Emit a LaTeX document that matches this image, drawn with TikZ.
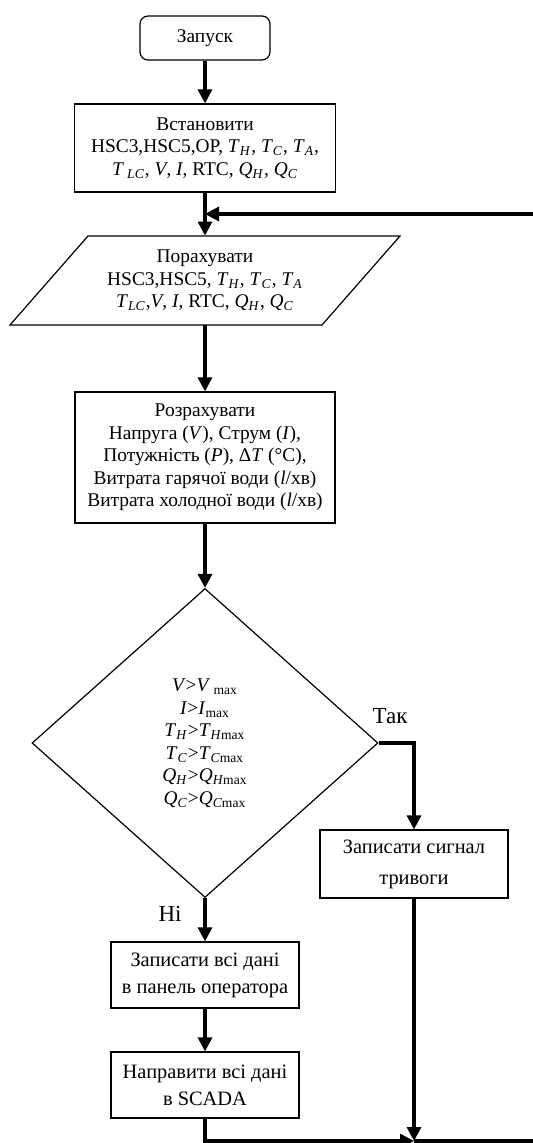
\documentclass[tikz,border=0pt]{standalone}
\usepackage{fontspec}
\setmainfont{Liberation Serif}
\usetikzlibrary{arrows.meta,shapes.geometric}
\newcommand{\vi}[1]{\textit{#1}}
\newcommand{\sbi}[2]{\textit{#1}\textsubscript{\textit{#2}}}
\begin{document}
\begin{tikzpicture}[x=0.5pt,y=-0.5pt,
  txt/.style={align=center, font=\fontsize{9.7}{11.25}\selectfont},
  box/.style={txt, draw, line width=0.6pt, inner sep=2pt},
  small/.style={font=\fontsize{10.2}{11.5}\selectfont},
  flow/.style={line width=1.6pt, -{Triangle[width=7pt,length=7pt]}},
  plain/.style={line width=1.6pt},
  lbl/.style={font=\fontsize{11.5}{13}\selectfont}]
\useasboundingbox (0,0) rectangle (533,1143);
\clip (0,0) rectangle (533,1143);
\node[box, rounded corners=4pt, minimum width=65pt, minimum height=22pt] (start) at (205,38) {Запуск};
\node[box, minimum width=130.5pt, minimum height=44pt] (set) at (205,148)
  {Встановити\\ HSC3,HSC5,OP, \sbi{T}{H}\textit{,} \sbi{T}{C}, \sbi{T}{A},\\ \textit{T}\,\textsubscript{\textit{LC}}, \vi{V}, \vi{I}, RTC, \sbi{Q}{H}, \sbi{Q}{C}};
\draw[line width=0.6pt] (88,236) -- (400,236) -- (322,325) -- (10,325) -- cycle;
\node[txt, minimum height=44.5pt, inner sep=0pt] (read) at (205,280.5)
  {Порахувати\\ HSC3,HSC5, \sbi{T}{H}, \sbi{T}{C}, \sbi{T}{A}\\ \sbi{T}{LC},\vi{V}, \vi{I}, RTC, \sbi{Q}{H}, \sbi{Q}{C}};
\node[box, minimum width=130pt, minimum height=65.5pt] (calc) at (205,457.5)
  {Розрахувати\\ Напруга (\vi{V}), Струм (\vi{I}),\\ Потужність (\vi{P}), Δ\vi{T} (°C),\\ Витрата гарячої води (\vi{l}/хв)\\ Витрата холодної води (\vi{l}/хв)};
\node[txt, diamond, draw, line width=0.6pt, minimum width=173pt, minimum height=154.5pt, inner sep=0pt] (dec) at (205,743)
  {\vi{V}>\vi{V}\,\textsubscript{max}\\ \vi{I}>\vi{I}\textsubscript{max}\\ \sbi{T}{H}>\vi{T}\textsubscript{\vi{H}max}\\ \sbi{T}{C}>\vi{T}\textsubscript{\vi{C}max}\\ \sbi{Q}{H}>\vi{Q}\textsubscript{\vi{H}max}\\ \sbi{Q}{C}>\vi{Q}\textsubscript{\vi{C}max}};
\node[box, small, minimum width=94pt, minimum height=34pt] (alarm) at (414,864) {Записати сигнал\\[4pt] тривоги};
\node[box, small, minimum width=94pt, minimum height=33pt] (write) at (205,975) {Записати всі дані\\[2pt] в панель оператора};
\node[box, small, minimum width=94pt, minimum height=33pt] (scada) at (205,1085) {Направити всі дані\\[2pt] в SCADA};
\node[lbl] (yes) at (390,716) {Так};
\node[lbl] (no) at (170,914) {Ні};
\coordinate (loopR) at (545,214);
\coordinate (botR) at (545,1141);
\coordinate (join) at (414,1141);
\draw[flow] (start) -- (set);
\draw[flow] (set) -- (read);
\draw[flow] (loopR) -- (loopR -| read.north);
\draw[flow] (read) -- (calc);
\draw[flow] (calc) -- (dec.north);
\draw[flow] (dec.east) -| (alarm.north);
\draw[flow] (dec.south) -- (write.north);
\draw[flow] (write) -- (scada);
\draw[flow] (scada.south) |- (join);
\draw[flow] (alarm.south) -- (join);
\draw[plain] (join) -- (botR) -- (loopR);
\end{tikzpicture}
\end{document}
